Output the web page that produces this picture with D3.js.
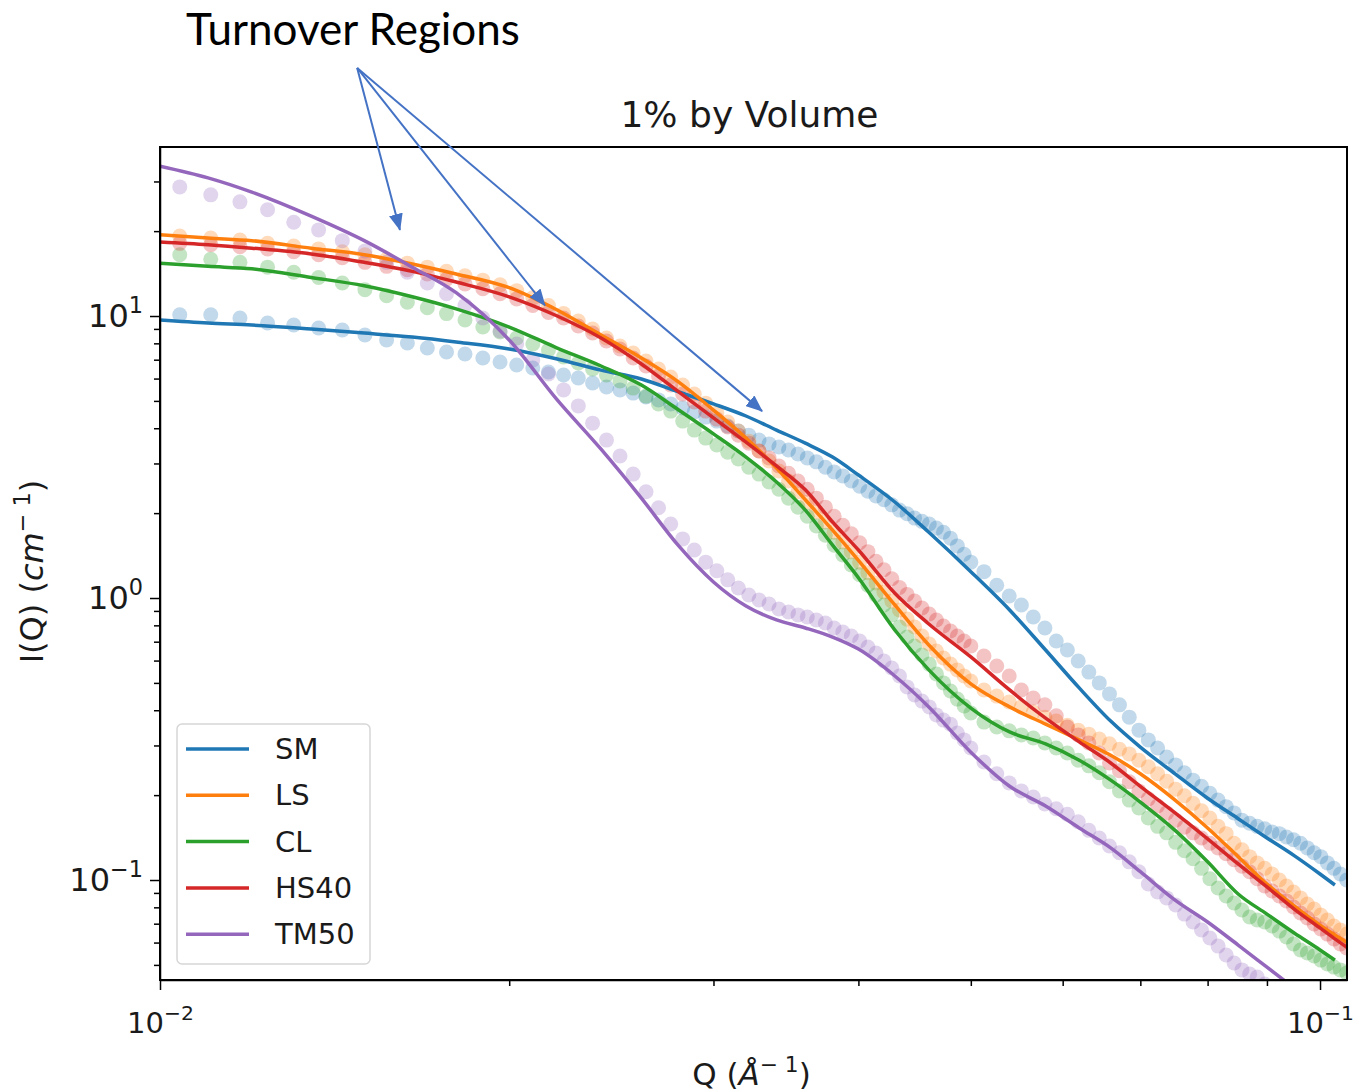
<!DOCTYPE html>
<html>
<head>
<meta charset="utf-8">
<script src="https://cdnjs.cloudflare.com/ajax/libs/d3/7.8.5/d3.min.js"></script>
<style>
body { margin: 0; background: #fff; }
svg { display: block; font-family: "DejaVu Sans", sans-serif; }
.axis path, .axis line { stroke: #000; stroke-width: 1.5; }
.axis text { fill: #1a1a1a; font-family: "DejaVu Sans", sans-serif; }
.x.axis text { font-size: 29px; }
.y.axis text { font-size: 32px; }
</style>
</head>
<body>
<script>
// series names + matplotlib tab10 colours
var seriesNames = ["SM", "LS", "CL", "HS40", "TM50"];
var seriesColors = ["#1f77b4", "#ff7f0e", "#2ca02c", "#d62728", "#9467bd"];

var pointQ = [0.01040, 0.01106, 0.01172, 0.01238, 0.01304, 0.01370, 0.01436, 0.01502, 0.01568, 0.01634,
  0.01700, 0.01766, 0.01832, 0.01898, 0.01964, 0.02030, 0.02096, 0.02162, 0.02228, 0.02294,
  0.02360, 0.02426, 0.02492, 0.02558, 0.02624, 0.02690, 0.02756, 0.02822, 0.02888, 0.02954,
  0.03020, 0.03086, 0.03152, 0.03218, 0.03284, 0.03350, 0.03416, 0.03482, 0.03548, 0.03614,
  0.03680, 0.03746, 0.03812, 0.03878, 0.03944, 0.04010, 0.04076, 0.04142, 0.04208, 0.04274,
  0.04340, 0.04406, 0.04472, 0.04538, 0.04604, 0.04670, 0.04736, 0.04802, 0.04868, 0.04934,
  0.05000,
  0.05132, 0.05264, 0.05396, 0.05528, 0.05660, 0.05792, 0.05924, 0.06056, 0.06188, 0.06320,
  0.06452, 0.06584, 0.06716, 0.06848, 0.06980, 0.07112, 0.07244, 0.07376, 0.07508, 0.07640,
  0.07772, 0.07904, 0.08036, 0.08168, 0.08300, 0.08432, 0.08564, 0.08696, 0.08828, 0.08960,
  0.09092, 0.09224, 0.09356, 0.09488, 0.09620, 0.09752, 0.09884, 0.10016, 0.10148, 0.10280,
  0.10412, 0.10544];

// I(Q) of the measured points (cm^-1)
var pointsSM = [10.1, 10.1, 9.84, 9.44, 9.29, 9.07, 8.92, 8.56, 8.22, 8.02,
  7.70, 7.45, 7.33, 7.10, 6.87, 6.70, 6.54, 6.33, 6.18, 6.03,
  5.79, 5.60, 5.47, 5.33, 5.16, 5.04, 4.88, 4.72, 4.57, 4.38,
  4.24, 4.07, 3.91, 3.78, 3.63, 3.52, 3.43, 3.35, 3.24, 3.14,
  3.04, 2.91, 2.80, 2.71, 2.60, 2.49, 2.39, 2.30, 2.23, 2.14,
  2.05, 1.99, 1.92, 1.87, 1.83, 1.77, 1.71, 1.63, 1.53, 1.43,
  1.34,
  1.24, 1.11, 1.016, 0.945, 0.856, 0.783, 0.704, 0.654, 0.598, 0.546,
  0.500, 0.457, 0.418, 0.378, 0.340, 0.314, 0.294, 0.273, 0.256, 0.240,
  0.226, 0.215, 0.203, 0.192, 0.182, 0.173, 0.163, 0.159, 0.155, 0.152,
  0.148, 0.146, 0.142, 0.139, 0.135, 0.130, 0.125, 0.121, 0.115, 0.110,
  0.105, 0.100];
var pointsLS = [19.2, 18.9, 18.6, 18.1, 17.7, 17.3, 16.9, 16.5, 15.9, 15.4,
  14.9, 14.4, 13.9, 13.4, 12.9, 12.3, 11.6, 10.9, 10.2, 9.60,
  8.99, 8.36, 7.83, 7.39, 6.92, 6.49, 6.08, 5.69, 5.29, 4.91,
  4.53, 4.21, 3.91, 3.60, 3.32, 3.06, 2.82, 2.60, 2.38, 2.19,
  2.02, 1.86, 1.71, 1.58, 1.46, 1.34, 1.23, 1.13, 1.05, 0.976,
  0.907, 0.842, 0.789, 0.733, 0.687, 0.649, 0.613, 0.583, 0.556, 0.529,
  0.508,
  0.472, 0.449, 0.428, 0.411, 0.394, 0.378, 0.366, 0.354, 0.340, 0.329,
  0.316, 0.304, 0.291, 0.280, 0.266, 0.252, 0.238, 0.224, 0.210, 0.199,
  0.187, 0.176, 0.166, 0.155, 0.146, 0.135, 0.128, 0.121, 0.115, 0.110,
  0.105, 0.100, 0.0952, 0.0907, 0.0864, 0.0822, 0.0789, 0.0751, 0.0721, 0.0687,
  0.0665, 0.0643];
var pointsCL = [16.5, 15.9, 15.5, 14.9, 14.3, 13.7, 13.1, 12.4, 11.8, 11.2,
  10.7, 10.2, 9.68, 9.14, 8.78, 8.36, 7.96, 7.58, 7.16, 6.81,
  6.49, 6.18, 5.88, 5.55, 5.20, 4.88, 4.60, 4.24, 3.94, 3.69,
  3.49, 3.29, 3.11, 2.91, 2.75, 2.58, 2.43, 2.26, 2.10, 1.95,
  1.80, 1.67, 1.54, 1.42, 1.31, 1.21, 1.11, 1.025, 0.945, 0.871,
  0.789, 0.727, 0.676, 0.628, 0.583, 0.538, 0.500, 0.468, 0.438, 0.414,
  0.391,
  0.363, 0.349, 0.338, 0.327, 0.319, 0.306, 0.294, 0.282, 0.266, 0.254,
  0.240, 0.223, 0.207, 0.192, 0.180, 0.166, 0.155, 0.147, 0.136, 0.127,
  0.119, 0.110, 0.101, 0.0937, 0.0878, 0.0829, 0.0783, 0.0739, 0.0721, 0.0710,
  0.0687, 0.0659, 0.0628, 0.0593, 0.0565, 0.0551, 0.0538, 0.0520, 0.0504, 0.0491,
  0.0480, 0.0468];
var pointsHS40 = [18.1, 17.9, 17.6, 17.3, 16.9, 16.5, 16.1, 15.5, 15.0, 14.6,
  14.1, 13.5, 13.0, 12.5, 12.0, 11.5, 10.9, 10.3, 9.84, 9.22,
  8.70, 8.15, 7.64, 7.10, 6.65, 6.13, 5.69, 5.29, 4.96, 4.60,
  4.31, 4.04, 3.78, 3.54, 3.32, 3.14, 2.94, 2.77, 2.60, 2.43,
  2.26, 2.10, 1.95, 1.81, 1.69, 1.57, 1.46, 1.35, 1.26, 1.17,
  1.09, 1.03, 0.976, 0.922, 0.878, 0.836, 0.796, 0.764, 0.733, 0.704,
  0.676,
  0.623, 0.574, 0.529, 0.472, 0.442, 0.418, 0.382, 0.349, 0.327, 0.306,
  0.282, 0.260, 0.244, 0.223, 0.207, 0.194, 0.183, 0.173, 0.163, 0.154,
  0.147, 0.141, 0.135, 0.130, 0.124, 0.118, 0.112, 0.107, 0.101, 0.0952,
  0.0914, 0.0878, 0.0843, 0.0802, 0.0764, 0.0733, 0.0698, 0.0670, 0.0643, 0.0618,
  0.0593, 0.0574];
var pointsTM50 = [28.7, 26.9, 25.4, 23.8, 21.5, 20.2, 18.5, 17.0, 15.5, 14.3,
  13.1, 12.0, 10.9, 9.84, 8.85, 7.96, 6.98, 6.23, 5.47, 4.80,
  4.17, 3.63, 3.19, 2.75, 2.38, 2.09, 1.83, 1.62, 1.48, 1.34,
  1.25, 1.16, 1.085, 1.025, 0.984, 0.952, 0.914, 0.892, 0.871, 0.856,
  0.836, 0.815, 0.783, 0.757, 0.733, 0.704, 0.670, 0.638, 0.598, 0.565,
  0.529, 0.484, 0.453, 0.431, 0.411, 0.385, 0.369, 0.357, 0.332, 0.314,
  0.294,
  0.262, 0.238, 0.221, 0.207, 0.197, 0.186, 0.179, 0.171, 0.161, 0.150,
  0.141, 0.132, 0.125, 0.116, 0.107, 0.0968, 0.0907, 0.0864, 0.0815, 0.0757,
  0.0710, 0.0665, 0.0623, 0.0583, 0.0542, 0.0508, 0.0480, 0.0464, 0.0453, 0.0428,
  0.0401, 0.0375];

// fitted model curves, sampled at these Q
var fitQ = [0.0100, 0.0110, 0.0120, 0.0135, 0.015, 0.0165, 0.018, 0.020, 0.022, 0.024,
  0.026, 0.028, 0.030, 0.032, 0.034, 0.036, 0.038, 0.040, 0.043, 0.046,
  0.050, 0.054, 0.058, 0.062, 0.066, 0.070, 0.075, 0.080, 0.085, 0.090,
  0.095, 0.100, 0.103, 0.106];
var fitSM = [9.68, 9.44, 9.29, 8.99, 8.70, 8.42, 8.09, 7.64, 7.04, 6.43,
  5.98, 5.38, 4.88, 4.42, 3.94, 3.54, 3.16, 2.73, 2.19, 1.71,
  1.24, 0.907, 0.654, 0.480, 0.366, 0.296, 0.238, 0.195, 0.165, 0.141,
  0.122, 0.105, 0.0960];
var fitLS = [19.4, 18.9, 18.5, 17.4, 16.5, 15.3, 14.1, 12.6, 10.5, 8.56,
  7.10, 5.83, 4.64, 3.69, 2.89, 2.23, 1.74, 1.36, 0.945, 0.681,
  0.496, 0.411, 0.357, 0.314, 0.277, 0.238, 0.192, 0.153, 0.121, 0.0968,
  0.0809, 0.0692, 0.0638, 0.0593];
var fitCL = [15.4, 15.0, 14.7, 13.7, 12.8, 11.7, 10.6, 9.14, 7.70, 6.65,
  5.69, 4.64, 3.82, 3.16, 2.58, 2.05, 1.54, 1.18, 0.770, 0.556,
  0.407, 0.335, 0.304, 0.266, 0.226, 0.189, 0.150, 0.116, 0.0892, 0.0757,
  0.0649, 0.0565, 0.0520];
var fitHS40 = [18.3, 17.9, 17.4, 16.6, 15.5, 14.4, 13.2, 11.7, 10.0, 8.36,
  6.76, 5.38, 4.35, 3.57, 2.94, 2.42, 1.86, 1.48, 1.04, 0.809,
  0.618, 0.472, 0.375, 0.309, 0.260, 0.215, 0.173, 0.140, 0.114, 0.0945,
  0.0789, 0.0676, 0.0618, 0.0569];
var fitTM50 = [34.0, 30.9, 27.5, 22.6, 18.5, 14.9, 12.1, 8.22, 5.04, 3.37,
  2.26, 1.53, 1.14, 0.937, 0.836, 0.783, 0.727, 0.659, 0.529, 0.411,
  0.284, 0.215, 0.183, 0.153, 0.130, 0.107, 0.0849, 0.0710, 0.0588, 0.0491,
  0.0414];

// axis ticks
var xMajor = [0.01, 0.1];
var xMinor = [0.02, 0.03, 0.04, 0.05, 0.06, 0.07, 0.08, 0.09];
var yMajor = [0.1, 1, 10];
var yMinor = [0.05, 0.06, 0.07, 0.08, 0.09, 0.2, 0.3, 0.4, 0.5, 0.6, 0.7, 0.8, 0.9,
  2, 3, 4, 5, 6, 7, 8, 9, 20, 30];

// annotation: one label, arrows from a common origin to the turnover points
var arrowFrom = [0.01479, 75.8];
var arrowTo = [[0.01610, 20.2], [0.02147, 10.9], [0.03304, 4.60]];

var pointSets = [pointsSM, pointsLS, pointsCL, pointsHS40, pointsTM50];
var fitSets = [fitSM, fitLS, fitCL, fitHS40, fitTM50];

// ---- set up canvas ----
var margin = {top: 147, right: 10, bottom: 111, left: 160},
    width = 1347 - margin.left,
    height = 980 - margin.top;

var x = d3.scaleLog().domain([0.01, 0.1055]).range([0, width]);
var y = d3.scaleLog().domain([0.0442, 39.75]).range([height, 0]);

var svg = d3.select("body")
    .append("svg")
        .attr("width", 1357)
        .attr("height", 1091);
svg.append("rect").attr("width", 1357).attr("height", 1091).style("fill", "#fff");

var defs = svg.append("defs");
defs.append("clipPath").attr("id", "plotclip")
    .append("rect").attr("width", width).attr("height", height);
defs.append("marker")
    .attr("id", "head")
    .attr("markerUnits", "userSpaceOnUse")
    .attr("markerWidth", 17).attr("markerHeight", 14)
    .attr("refX", 16).attr("refY", 7)
    .attr("orient", "auto")
  .append("path")
    .attr("d", "M0,0 L17,7 L0,14 Z")
    .style("fill", "#4472c4");

var g = svg.append("g")
    .attr("transform", "translate(" + margin.left + "," + margin.top + ")");

// ---- points and fits ----
var plotArea = g.append("g").attr("clip-path", "url(#plotclip)");

pointSets.forEach(function(vals, i) {
    plotArea.append("g").selectAll("circle")
        .data(vals)
        .enter().append("circle")
            .attr("cx", function(d, j) { return x(pointQ[j]); })
            .attr("cy", function(d) { return y(d); })
            .attr("r", 7.5)
            .style("fill", seriesColors[i])
            .style("fill-opacity", 0.28);
});

var valueline = d3.line()
    .x(function(d, j) { return x(fitQ[j]); })
    .y(function(d) { return y(d); })
    .curve(d3.curveMonotoneX);

fitSets.forEach(function(vals, i) {
    plotArea.append("path")
        .attr("d", valueline(vals))
        .style("fill", "none")
        .style("stroke", seriesColors[i])
        .style("stroke-width", 3.5);
});

// ---- axes ----
function powerLabels(sel) {
    sel.selectAll(".tick text").each(function(d) {
        var e = Math.round(Math.log10(d));
        var t = d3.select(this).text("10");
        t.append("tspan")
            .attr("dy", "-0.62em")
            .style("font-size", "70%")
            .text(e < 0 ? "\u2212" + (-e) : "" + e);
    });
}

g.append("g")
    .attr("class", "x axis")
    .attr("transform", "translate(0," + height + ")")
    .call(d3.axisBottom(x).tickValues(xMajor).tickSize(10).tickPadding(22).tickSizeOuter(0))
    .call(powerLabels);
g.append("g")
    .attr("class", "x axis")
    .attr("transform", "translate(0," + height + ")")
    .call(d3.axisBottom(x).tickValues(xMinor).tickSize(6).tickFormat("").tickSizeOuter(0))
    .call(function(s) { s.select(".domain").remove(); });

g.append("g")
    .attr("class", "y axis")
    .call(d3.axisLeft(y).tickValues(yMajor).tickSize(10).tickPadding(7).tickSizeOuter(0))
    .call(powerLabels);
g.append("g")
    .attr("class", "y axis")
    .call(d3.axisLeft(y).tickValues(yMinor).tickSize(6).tickFormat("").tickSizeOuter(0))
    .call(function(s) { s.select(".domain").remove(); });

// frame
g.append("rect")
    .attr("width", width).attr("height", height)
    .style("fill", "none").style("stroke", "#000").style("stroke-width", 2);

// ---- labels ----
g.append("text")
    .attr("x", width / 2 - 4).attr("y", -20)
    .attr("text-anchor", "middle")
    .style("font-size", "36px").style("fill", "#1a1a1a")
    .text("1% by Volume");

var xl = g.append("text")
    .attr("x", width / 2 - 2).attr("y", height + 105)
    .attr("text-anchor", "middle")
    .style("font-size", "31px").style("fill", "#1a1a1a");
xl.append("tspan").text("Q (");
xl.append("tspan").style("font-style", "italic").text("\u00c5");
xl.append("tspan").attr("dy", "-0.6em").style("font-size", "70%").text("\u2212 1");
xl.append("tspan").attr("dy", "0.42em").text(")");

var yl = g.append("text")
    .attr("transform", "translate(-117," + (height / 2 + 8) + ") rotate(-90)")
    .attr("text-anchor", "middle")
    .style("font-size", "32px").style("fill", "#1a1a1a");
yl.append("tspan").text("I(Q) (");
yl.append("tspan").style("font-style", "italic").text("cm");
yl.append("tspan").attr("dy", "-0.6em").style("font-size", "70%").text("\u2212 1");
yl.append("tspan").attr("dy", "0.42em").text(")");

// ---- legend ----
var legend = g.append("g").attr("transform", "translate(17,577)");
legend.append("rect")
    .attr("width", 193).attr("height", 240).attr("rx", 5)
    .style("fill", "#fff").style("fill-opacity", 0.85)
    .style("stroke", "#d6d6d6").style("stroke-width", 1.5);
seriesNames.forEach(function(name, i) {
    var ly = 25 + i * 46.3;
    legend.append("line")
        .attr("x1", 9).attr("x2", 72).attr("y1", ly).attr("y2", ly)
        .style("stroke", seriesColors[i]).style("stroke-width", 3.5);
    legend.append("text")
        .attr("x", 98).attr("y", ly + 10)
        .style("font-size", "29px").style("fill", "#1a1a1a")
        .text(name);
});

// ---- annotation ----
svg.append("text")
    .attr("x", 353).attr("y", 45)
    .attr("text-anchor", "middle")
    .style("font-family", "Lato, 'Open Sans', sans-serif")
    .style("font-size", "44px").style("fill", "#000")
    .text("Turnover Regions");

arrowTo.forEach(function(p) {
    g.append("line")
        .attr("x1", x(arrowFrom[0])).attr("y1", y(arrowFrom[1]))
        .attr("x2", x(p[0])).attr("y2", y(p[1]))
        .style("stroke", "#4472c4").style("stroke-width", 2)
        .attr("marker-end", "url(#head)");
});
</script>
</body>
</html>
